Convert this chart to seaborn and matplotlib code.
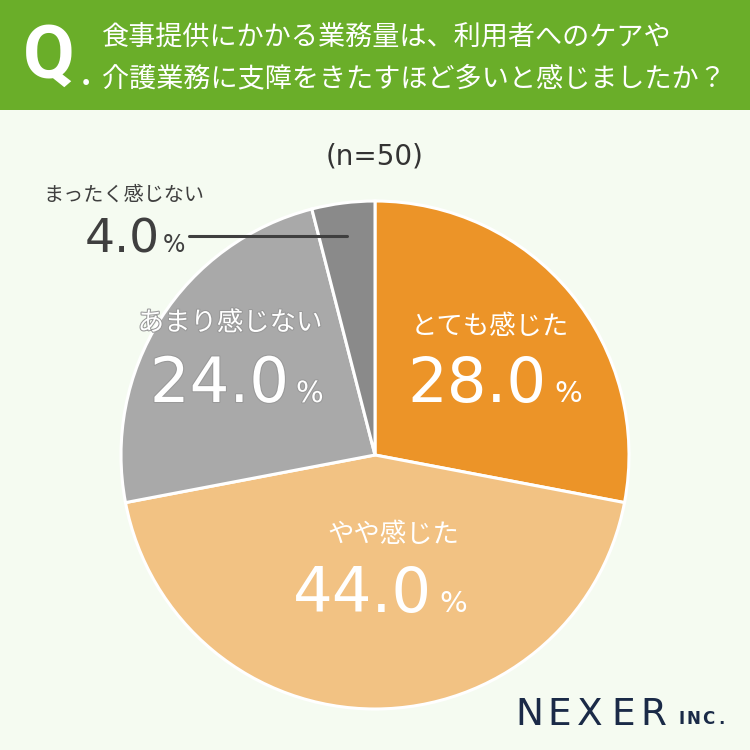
import matplotlib
matplotlib.use("Agg")
import matplotlib.pyplot as plt
import matplotlib.patheffects as pe
import seaborn as sns
from matplotlib.patches import Rectangle

# ===================== DATA =====================
categories = ["とても感じた", "やや感じた", "あまり感じない", "まったく感じない"]
values = [28.0, 44.0, 24.0, 4.0]
colors = ["#ec9428", "#f2c283", "#a9a9a9", "#8a8a8a"]
title_lines = ["食事提供にかかる業務量は、利用者へのケアや",
               "介護業務に支障をきたすほど多いと感じましたか？"]
n_label = "(n=50)"

sns.set_theme(style="white")
plt.rcParams["font.family"] = ["Noto Sans CJK JP", "DejaVu Sans"]

W = 750
fig = plt.figure(figsize=(7.5, 7.5), dpi=100)
fig.patch.set_facecolor("#f5fbf1")


def fx(px):
    return px / W


def fy(py):
    return 1 - py / W


# ===================== HEADER =====================
fig.patches.append(Rectangle((0, fy(110)), 1, 110 / W, transform=fig.transFigure,
                             facecolor="#6aae29", edgecolor="none", zorder=0))
fig.text(fx(23), fy(78), "Q", color="white", fontsize=54, fontweight="bold",
         family=["Roboto", "DejaVu Sans"], ha="left", va="baseline")
fig.text(fx(81), fy(85), ".", color="white", fontsize=26, fontweight="bold",
         family=["Roboto", "DejaVu Sans"], ha="left", va="baseline")
fig.text(fx(102), fy(37), title_lines[0], color="white", fontsize=19.5,
         ha="left", va="center")
fig.text(fx(102), fy(79), title_lines[1], color="white", fontsize=19.5,
         ha="left", va="center")

# ===================== PIE =====================
cx, cy, r = 375, 455, 254
ax = fig.add_axes([fx(cx - r), fy(cy + r), 2 * r / W, 2 * r / W])
ax.pie(values, colors=colors, startangle=90, counterclock=False, radius=1,
       wedgeprops=dict(edgecolor="white", linewidth=2.2))
ax.set_xlim(-1, 1)
ax.set_ylim(-1, 1)
ax.set_aspect("equal")
ax.axis("off")

fig.text(fx(375), fy(156), n_label, color="#333333", fontsize=20,
         family="DejaVu Sans", ha="center", va="center")

# ===================== LABELS =====================
# (label x, label y, number right edge x, baseline y)
label_pos = [(490, 327, 547, 402), (393, 535, 432, 612),
             (230, 323, 289, 402)]
for i, (lx, ly, nx, ny) in enumerate(label_pos):
    stroke = [] if i != 2 else [pe.withStroke(linewidth=1.5, foreground="#999999")]
    fig.text(fx(lx), fy(ly), categories[i], color="white", fontsize=19,
             ha="center", va="center", path_effects=stroke)
    fig.text(fx(nx), fy(ny), f"{values[i]:.1f}", color="white", fontsize=45,
             family="DejaVu Sans", ha="right", va="baseline", path_effects=stroke)
    fig.text(fx(nx + 7), fy(ny), "%", color="white", fontsize=21,
             family="DejaVu Sans", ha="left", va="baseline", path_effects=stroke)

# small slice label
fig.text(fx(43), fy(195), categories[3], color="#3f3f3f", fontsize=14.5,
         ha="left", va="center")
fig.text(fx(160), fy(252), f"{values[3]:.1f}", color="#3f3f3f", fontsize=34,
         family="DejaVu Sans", ha="right", va="baseline")
fig.text(fx(163), fy(252), "%", color="#3f3f3f", fontsize=17,
         family="DejaVu Sans", ha="left", va="baseline")
fig.lines.append(plt.Line2D([fx(189), fx(347)], [fy(236), fy(236)],
                            transform=fig.transFigure, color="#3f3f3f", lw=2.2))

# ===================== LOGO =====================
for letter, lx in zip("NEXER", [515, 547, 577, 611, 640]):
    fig.text(fx(lx), fy(725), letter, color="#1a2a47", fontsize=27,
             ha="left", va="baseline", family="DejaVu Sans")
for letter, lx in zip("INC.", [678, 687, 702, 718]):
    fig.text(fx(lx), fy(724), letter, color="#1a2a47", fontsize=12,
             fontweight="bold", ha="left", va="baseline", family="DejaVu Sans")

fig.savefig("out.png", dpi=100, facecolor=fig.get_facecolor())
